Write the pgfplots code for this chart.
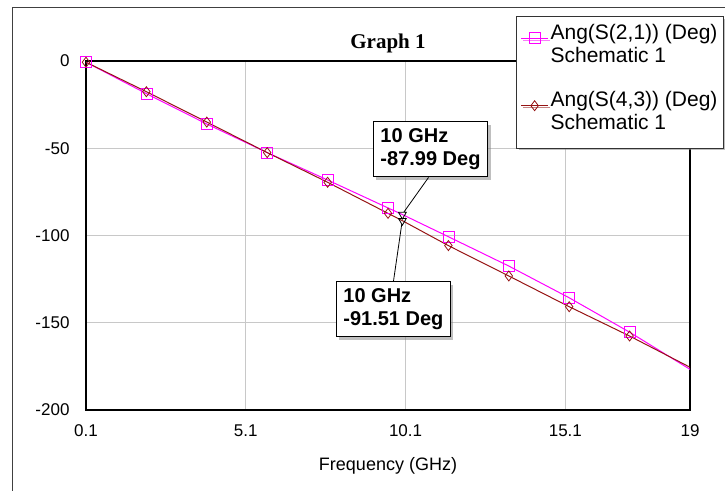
\documentclass[border=0pt]{standalone}
\usepackage{pgfplots}
\pgfplotsset{compat=1.18}
\usepackage{fontspec}
\setmainfont{Liberation Sans}
\newfontfamily\timesfont{Liberation Serif}
\usetikzlibrary{shadows}
\definecolor{mag}{RGB}{255,0,255}
\definecolor{dred}{RGB}{150,20,20}
\definecolor{gridc}{RGB}{200,200,200}
\begin{document}
\begin{tikzpicture}[x=1pt,y=1pt]
\path[use as bounding box] (0,0) rectangle (725,490);
\draw[black!75, line width=1pt] (12,-10) -- (12,482) -- (740,482);
\begin{axis}[
 at={(86pt,80pt)}, anchor=south west,
 scale only axis, width=604pt, height=349pt,
 xmin=0.1, xmax=19, ymin=-200, ymax=0,
 xtick={0.1,5.1,10.1,15.1,19}, xticklabels={0.1,5.1,10.1,15.1,19},
 ytick={-200,-150,-100,-50,0},
 grid=major, major grid style={gridc, line width=1pt},
 tick style={draw=none},
 axis line style={black, line width=1.3pt},
 /pgf/number format/assume math mode=true,
 ticklabel style={font=\fontsize{17}{20}\selectfont},
 yticklabel style={xshift=-13pt},
 xticklabel style={yshift=-11pt},
 xlabel={Frequency (GHz)},
 xlabel style={font=\fontsize{18}{21}\selectfont, at={(axis description cs:0.5,0)}, anchor=center, yshift=-56pt},
 title={Graph 1},
 title style={font=\timesfont\bfseries\fontsize{21}{24}\selectfont, at={(axis description cs:0.5,1)}, anchor=base, yshift=6pt},
 legend style={at={(axis description cs:1.0563,1.1289)}, anchor=north east, draw=black!80, line width=1pt, fill=white,
   font=\fontsize{21}{23}\selectfont, drop shadow={shadow xshift=2pt, shadow yshift=-2pt, fill=gray},
   inner xsep=4pt, inner ysep=5pt, row sep=13pt},
 legend cell align=left,
 legend image code/.code={%
   \path (0pt,-37pt);
   \draw[#1, mark=none] (0pt,0pt) -- (27pt,0pt);
   \draw[#1, only marks] plot coordinates {(13.5pt,0pt)};},
]
\addplot[mag, line width=1pt, mark=square, mark size=5.5pt, mark indices={1,2,3,4,5,6,8,9,10,11}, mark options={solid, line width=0.8pt}]
 coordinates {(0.1,-0.7) (1.99,-18.7) (3.88,-36.1) (5.77,-52.5) (7.66,-68.2) (9.55,-84.2) (10,-87.99) (11.44,-100.7) (13.33,-117.5) (15.22,-135.7) (17.11,-155.4) (19,-176.7)};
\addlegendentry{\begin{tabular}{@{}l@{}}Ang(S(2,1)) (Deg)\\Schematic 1\end{tabular}}
\addplot[dred, line width=1pt, mark=diamond, mark size=5pt, mark indices={1,2,3,4,5,6,8,9,10,11}, mark options={solid, line width=0.8pt}]
 coordinates {(0.1,-0.7) (1.99,-17.6) (3.88,-35.0) (5.77,-52.5) (7.66,-69.5) (9.55,-87.3) (10,-91.51) (11.44,-105.8) (13.33,-123.2) (15.22,-140.8) (17.11,-157.6) (19,-175.5)};
\addlegendentry{\begin{tabular}{@{}l@{}}Ang(S(4,3)) (Deg)\\Schematic 1\end{tabular}}
\addplot[black, only marks, mark=triangle, mark size=4.5pt, mark options={rotate=180, line width=0.8pt}, forget plot]
 coordinates {(10,-87.99) (10,-91.51)};
\node[draw=black, fill=white, line width=1pt, drop shadow={shadow xshift=3pt, shadow yshift=-3pt, fill=gray},
  font=\bfseries\fontsize{20}{23}\selectfont, align=left, inner xsep=7pt, minimum height=55pt] (up) at (axis cs:10.88,-50.7) {10 GHz\\-87.99 Deg};
\draw[black, line width=0.8pt] ([xshift=-2pt]up.south) -- (axis cs:10.05,-86.5);
\node[draw=black, fill=white, line width=1pt, drop shadow={shadow xshift=3pt, shadow yshift=-3pt, fill=gray},
  font=\bfseries\fontsize{20}{23}\selectfont, align=left, inner xsep=7pt, minimum height=55pt] (lo) at (axis cs:9.72,-142.4) {10 GHz\\-91.51 Deg};
\draw[black, line width=0.8pt] (lo.north) -- (axis cs:9.98,-93.5);
\end{axis}
\end{tikzpicture}
\end{document}
